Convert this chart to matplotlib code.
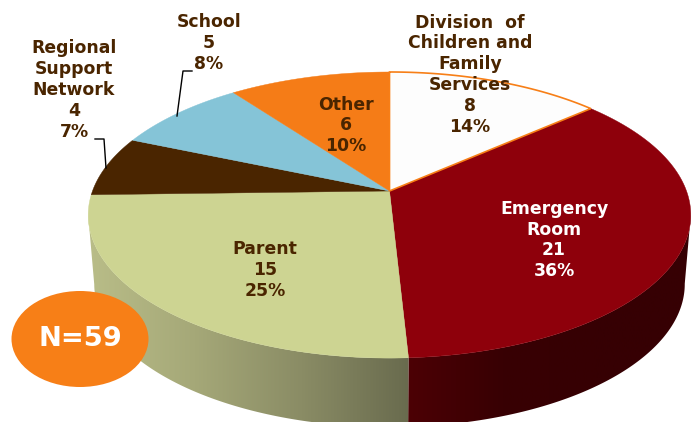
import numpy as np
import matplotlib
matplotlib.use("Agg")
import matplotlib.pyplot as plt
from matplotlib.patches import Polygon, Ellipse
from matplotlib.colors import LinearSegmentedColormap

# data (clockwise from 12 o'clock)
names = ["Division  of\nChildren and\nFamily\nServices", "Emergency\nRoom", "Parent",
         "Regional\nSupport\nNetwork", "School", "Other"]
counts = [8, 21, 15, 4, 5, 6]
percents = ["14%", "36%", "25%", "7%", "8%", "10%"]
total_label = "N=59"

# styles
top_colors = ["#fdfdfd", "#8e000b", "#cdd492", "#4a2500", "#85c4d7", "#f57c17"]
side_stops = {1: ["#4c0005", "#380003", "#360003", "#360003"],
              2: ["#b9bd88", "#a5a878", "#8a8c65", "#696b4e"]}
label_pos = [(470, 74.5), (554, 240), (265, 270), (74, 90), (209, 43), (346, 125.5)]
label_col = ["#4a2500", "#ffffff", "#4a2500", "#4a2500", "#4a2500", "#4a2500"]
ORANGE = "#f77f17"
CX, CY, A, B, K, DEPTH, BASE = 389.5, 191.0, 297.0, 139.0, 0.168, 69.0, 0.98


def project(theta):
    """Angle clockwise from top -> pixel coordinates of the rim, tilted in perspective."""
    u, v = np.sin(theta), np.cos(theta)
    w = 1 + K * v
    return CX + A * u / w, CY - B * v / w


fig = plt.figure(figsize=(6.96, 4.22), dpi=100)
ax = fig.add_axes([0, 0, 1, 1])

edges = np.concatenate([[0], np.cumsum(counts)]) / np.sum(counts) * 2 * np.pi

# side wall: a horizontal gradient clipped to the outline of the wall
for i, stops in side_stops.items():
    th = np.linspace(edges[i], edges[i + 1], 400)
    x, y = project(th)
    # keep only the front-facing part of the rim, where x runs one way
    if i == 1:
        k = int(np.argmax(x))
        x, y = x[k:], y[k:]
    else:
        k = int(np.argmin(x))
        x, y = x[:k + 1], y[:k + 1]
    xb = CX + (x - CX) * BASE   # the base rim is slightly narrower than the top rim
    outline = np.column_stack([np.r_[x, xb[::-1]], np.r_[y, y[::-1] + DEPTH]])
    patch = Polygon(outline, closed=True, transform=ax.transData, facecolor="none", edgecolor="none")
    ax.add_patch(patch)
    cmap = LinearSegmentedColormap.from_list(f"side{i}", stops)
    im = ax.imshow(np.linspace(0, 1, 256)[None, :], cmap=cmap, aspect="auto", zorder=1,
                   extent=(x.min(), x.max(), 422, 0), interpolation="bilinear")
    im.set_clip_path(patch)

# top surface
for i in range(len(counts)):
    th = np.linspace(edges[i], edges[i + 1], 200)
    x, y = project(th)
    pts = np.column_stack([np.r_[CX, x], np.r_[CY, y]])
    ec, lw = (ORANGE, 1.2) if i == 0 else (top_colors[i], 0.3)
    ax.add_patch(Polygon(pts, closed=True, facecolor=top_colors[i], edgecolor=ec, linewidth=lw,
                         zorder=3 if i == 0 else 2))

# leader lines
ax.plot([95, 104, 106], [139, 139, 168], color="black", lw=1, zorder=4)
ax.plot([192, 183, 177], [71, 71, 116], color="black", lw=1, zorder=4)

# labels
for i in range(len(counts)):
    ax.text(label_pos[i][0], label_pos[i][1], f"{names[i]}\n{counts[i]}\n{percents[i]}",
            ha="center", va="center", ma="center", color=label_col[i], fontsize=12.4,
            fontweight="bold", family="DejaVu Sans", linespacing=1.2, zorder=5)

# N badge
ax.add_patch(Ellipse((80, 339), 137, 96, facecolor=ORANGE, edgecolor="none", zorder=6))
ax.text(80.5, 339, total_label, ha="center", va="center", color="white", fontsize=19.7,
        fontweight="bold", family="DejaVu Sans", zorder=7)

ax.set_xlim(0, 696)
ax.set_ylim(422, 0)
ax.axis("off")
fig.savefig("out.png", dpi=100)
